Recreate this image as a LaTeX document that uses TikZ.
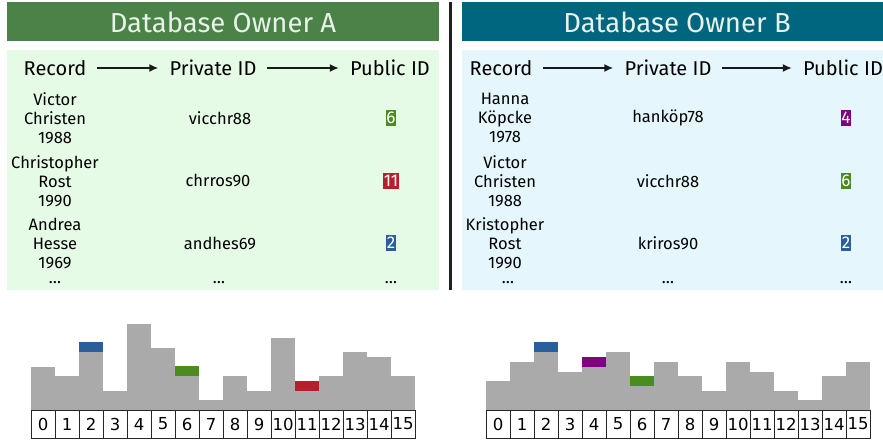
\documentclass[tikz,border=0pt]{standalone}
\usepackage{fontspec}
\setmainfont{Fira Sans}
\newfontfamily\digitfont{DejaVu Sans}
\usetikzlibrary{arrows.meta}

\definecolor{hdrA}{RGB}{74,130,72}
\definecolor{panA}{RGB}{230,251,230}
\definecolor{hdrB}{RGB}{0,102,128}
\definecolor{panB}{RGB}{229,247,252}
\definecolor{barg}{RGB}{170,170,170}
\definecolor{idgreen}{RGB}{74,140,30}
\definecolor{idred}{RGB}{185,30,45}
\definecolor{idblue}{RGB}{42,95,155}
\definecolor{idpurple}{RGB}{128,0,128}
\definecolor{titletext}{RGB}{232,242,232}

\begin{document}
\begin{tikzpicture}[x=1pt,y=-1pt,
  title/.style={text=titletext, font=\fontsize{27.5}{30}\selectfont, inner sep=0pt},
  colhead/.style={font=\fontsize{20}{22}\selectfont, inner sep=0pt},
  rec/.style={align=center, font=\fontsize{16.5}{19}\selectfont, inner sep=0pt},
  pid/.style={font=\fontsize{16.5}{19}\selectfont, inner sep=0pt},
  more/.style={font=\fontsize{16.5}{19}\selectfont, inner sep=0pt, anchor=base,
    text height=3pt, text depth=0pt},
  badge/.style={fill=#1, text=white, font=\fontsize{17}{17}\selectfont,
    inner xsep=0.8pt, inner ysep=1.5pt, text height=12pt, text depth=1pt},
  arr/.style={-{Latex[length=9pt,width=8pt]}, line width=2.2pt, black!90,
    shorten <=10pt, shorten >=11pt},
  cell/.style={draw=black!85, line width=0.8pt, fill=white, minimum width=24pt,
    minimum height=28pt, inner sep=0pt, font=\digitfont\fontsize{16.5}{16.5}\selectfont},
  bar/.style={fill=barg},
]
\useasboundingbox (0,0) rectangle (883,443);

% ---------- owner A ----------
\fill[hdrA] (7,2) rectangle (439,41);
\node[title] (titleA) at (223,22) {Database Owner A};
\fill[panA] (7,50) rectangle (439,290);

\node[colhead] (recA)  at (55,68)  {Record};
\node[colhead] (privA) at (213,68) {Private ID};
\node[colhead] (pubA)  at (390,68) {Public ID};
\draw[arr] (recA) -- (privA);
\draw[arr] (privA) -- (pubA);

\node[rec] (a1) at (55,118) {Victor\\Christen\\1988};
\node[pid] (a1p) at (220,118) {vicchr88};
\node[badge=idgreen] (a1b) at (391,118) {6};

\node[rec] (a2) at (55,181) {Christopher\\Rost\\1990};
\node[pid] (a2p) at (218,181) {chrros90};
\node[badge=idred] (a2b) at (391,181) {11};

\node[rec] (a3) at (55,243) {Andrea\\Hesse\\1969};
\node[pid] (a3p) at (220,243) {andhes69};
\node[badge=idblue] (a3b) at (391,243) {2};

\node[more] (a4)  at (55,284)  {…};
\node[more] (a4p) at (219,284) {…};
\node[more] (a4b) at (391,284) {…};

% ---------- divider ----------
\draw[line width=3pt, black!88] (450,2) -- (450,290);

% ---------- owner B ----------
\fill[hdrB] (462,2) rectangle (883,41);
\node[title] (titleB) at (677,22) {Database Owner B};
\fill[panB] (462,50) rectangle (883,290);

\node[colhead] (recB)  at (501,68) {Record};
\node[colhead] (privB) at (668,68) {Private ID};
\node[colhead] (pubB)  at (843,68) {Public ID};
\draw[arr] (recB) -- (privB);
\draw[arr] (privB) -- (pubB);

\node[rec] (b1) at (505,118) {Hanna\\Köpcke\\1978};
\node[pid] (b1p) at (668,118) {hanköp78};
\node[badge=idpurple] (b1b) at (846,118) {4};

\node[rec] (b2) at (505,181) {Victor\\Christen\\1988};
\node[pid] (b2p) at (668,181) {vicchr88};
\node[badge=idgreen] (b2b) at (846,181) {6};

\node[rec] (b3) at (505,243) {Kristopher\\Rost\\1990};
\node[pid] (b3p) at (668,243) {kriros90};
\node[badge=idblue] (b3b) at (846,243) {2};

\node[more] (b4)  at (508,284) {…};
\node[more] (b4p) at (668,284) {…};
\node[more] (b4b) at (846,284) {…};

% ---------- histogram A ----------
\foreach \h [count=\i from 0] in {9,7,12,4,18,13,7,2,7,4,15,4,7,12,11,7}
  \fill[bar] ({31+24*\i},410) rectangle ++(24,{-4.8*\h});
\fill[idblue]  ({31+24*2},{410-4.8*12}) rectangle ++(24,-10);
\fill[idgreen] ({31+24*6},{410-4.8*7})  rectangle ++(24,-10);
\fill[idred]   ({31+24*11},{410-4.8*4}) rectangle ++(24,-10);
\foreach \i in {0,...,15}
  \node[cell] (ha\i) at ({43+24*\i},424) {\i};

% ---------- histogram B ----------
\foreach \h [count=\i from 0] in {6,10,12,8,9,12,5,10,7,4,10,8,4,2,7,10}
  \fill[bar] ({486+24*\i},410) rectangle ++(24,{-4.8*\h});
\fill[idblue]   ({486+24*2},{410-4.8*12}) rectangle ++(24,-10);
\fill[idpurple] ({486+24*4},{410-4.8*9})  rectangle ++(24,-10);
\fill[idgreen]  ({486+24*6},{410-4.8*5})  rectangle ++(24,-10);
\foreach \i in {0,...,15}
  \node[cell] (hb\i) at ({498+24*\i},424) {\i};
\end{tikzpicture}
\end{document}
